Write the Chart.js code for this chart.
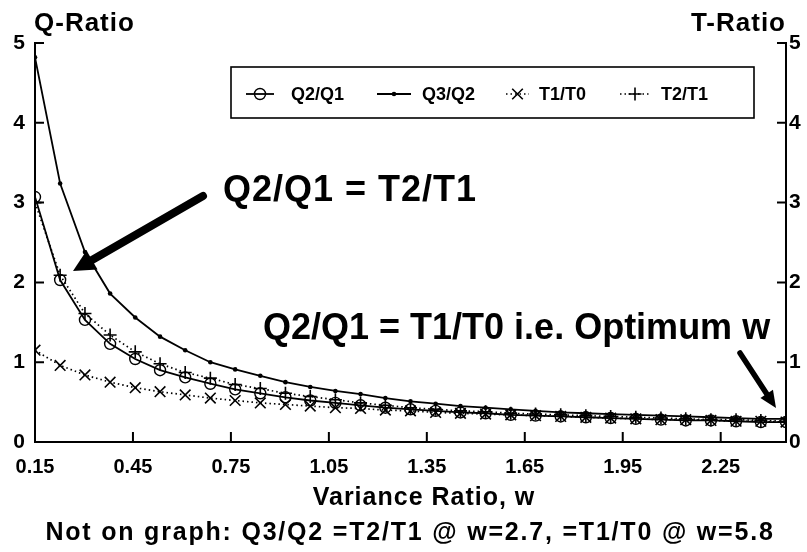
<!DOCTYPE html>
<html>
<head>
<meta charset="utf-8">
<script src="https://cdn.jsdelivr.net/npm/chart.js@4.4.1/dist/chart.umd.min.js"></script>
<style>
  html, body { margin: 0; padding: 0; background: #fff; }
</style>
</head>
<body>
<canvas id="myChart" width="807" height="552"></canvas>
<script>
// variance ratio w at each plotted point
const wValues = [0.15, 0.227, 0.303, 0.38, 0.457, 0.533, 0.61, 0.687, 0.763, 0.84,
    0.917, 0.993, 1.07, 1.147, 1.223, 1.3, 1.377, 1.453, 1.53, 1.607,
    1.683, 1.76, 1.837, 1.913, 1.99, 2.067, 2.143, 2.22, 2.297, 2.373, 2.45];

const q2q1 = [3.07, 2.03, 1.53, 1.23, 1.04, 0.90, 0.81, 0.73, 0.66, 0.61,
    0.56, 0.52, 0.49, 0.46, 0.43, 0.41, 0.39, 0.37, 0.36, 0.34,
    0.33, 0.32, 0.31, 0.30, 0.29, 0.28, 0.27, 0.27, 0.26, 0.25, 0.25];
const q3q2 = [4.82, 3.24, 2.38, 1.86, 1.56, 1.32, 1.15, 1.00, 0.91, 0.83,
    0.75, 0.69, 0.64, 0.60, 0.55, 0.51, 0.48, 0.45, 0.43, 0.41,
    0.39, 0.37, 0.36, 0.35, 0.34, 0.33, 0.32, 0.31, 0.30, 0.29, 0.29];
const t1t0 = [1.15, 0.96, 0.84, 0.75, 0.68, 0.63, 0.59, 0.55, 0.52, 0.49,
    0.47, 0.45, 0.43, 0.42, 0.40, 0.39, 0.37, 0.36, 0.35, 0.34,
    0.33, 0.32, 0.31, 0.30, 0.29, 0.28, 0.28, 0.27, 0.26, 0.26, 0.25];
const t2t1 = [3.00, 2.09, 1.61, 1.34, 1.13, 0.98, 0.87, 0.80, 0.72, 0.67,
    0.61, 0.57, 0.53, 0.49, 0.46, 0.43, 0.41, 0.39, 0.38, 0.36,
    0.35, 0.34, 0.33, 0.32, 0.31, 0.30, 0.29, 0.28, 0.28, 0.27, 0.26];

const xTicks = [0.15, 0.45, 0.75, 1.05, 1.35, 1.65, 1.95, 2.25];

const FONT = '"Liberation Sans", Arial, Helvetica, sans-serif';

const toPoints = (arr) => arr.map((v, i) => ({ x: wValues[i], y: v }));

const data = {
    datasets: [{
            label: 'Q2/Q1',
            data: toPoints(q2q1),
            yAxisID: 'y',
            borderColor: '#000',
            borderWidth: 1.8,
            pointStyle: 'circle',
            pointRadius: 5.5,
            pointBorderWidth: 1.4,
            pointBackgroundColor: 'rgba(255,255,255,0)',
            pointBorderColor: '#000',
        },
        {
            label: 'Q3/Q2',
            data: toPoints(q3q2),
            yAxisID: 'y',
            borderColor: '#000',
            borderWidth: 1.8,
            pointStyle: 'circle',
            pointRadius: 2.3,
            pointBorderWidth: 0,
            pointBackgroundColor: '#000',
            pointBorderColor: '#000',
        },
        {
            label: 'T1/T0',
            data: toPoints(t1t0),
            yAxisID: 'y2',
            borderColor: '#000',
            borderWidth: 1.7,
            borderDash: [1.5, 3],
            pointStyle: 'crossRot',
            pointRadius: 7.5,
            pointBorderWidth: 1.6,
            pointBorderColor: '#000',
        },
        {
            label: 'T2/T1',
            data: toPoints(t2t1),
            yAxisID: 'y2',
            borderColor: '#000',
            borderWidth: 1.7,
            borderDash: [1.5, 3],
            pointStyle: 'cross',
            pointRadius: 6.5,
            pointBorderWidth: 1.6,
            pointBorderColor: '#000',
        },
    ]
};

// arrows, legend box, inward ticks and free texts
const decor = {
    id: 'decor',
    afterDraw(chart) {
        const ctx = chart.ctx;
        const area = chart.chartArea;
        ctx.save();
        ctx.strokeStyle = '#000';
        ctx.fillStyle = '#000';
        ctx.lineWidth = 2;

        // inward tick marks
        const sx = chart.scales.x, sy = chart.scales.y, sy2 = chart.scales.y2;
        ctx.beginPath();
        sy.ticks.forEach(t => {
            const p = sy.getPixelForValue(t.value);
            ctx.moveTo(area.left, p); ctx.lineTo(area.left + 9, p);
        });
        sy2.ticks.forEach(t => {
            const p = sy2.getPixelForValue(t.value);
            ctx.moveTo(area.right, p); ctx.lineTo(area.right - 9, p);
        });
        sx.ticks.forEach(t => {
            const p = sx.getPixelForValue(t.value);
            ctx.moveTo(p, area.bottom); ctx.lineTo(p, area.bottom - 10);
        });
        ctx.stroke();

        // legend
        const box = { l: 231, t: 67, r: 754, b: 118 };
        ctx.lineWidth = 1.6;
        ctx.strokeRect(box.l, box.t, box.r - box.l, box.b - box.t);
        const legY = 94;
        const items = [
            { ds: 0, x1: 246, x2: 274, tx: 291 },
            { ds: 1, x1: 377, x2: 411, tx: 422 },
            { ds: 2, x1: 506, x2: 529, tx: 539 },
            { ds: 3, x1: 620, x2: 650, tx: 661 },
        ];
        ctx.font = 'bold 18px ' + FONT;
        ctx.textBaseline = 'middle';
        ctx.textAlign = 'left';
        items.forEach(it => {
            const ds = chart.data.datasets[it.ds];
            ctx.save();
            ctx.lineWidth = ds.borderWidth;
            ctx.setLineDash(ds.borderDash || []);
            ctx.beginPath();
            ctx.moveTo(it.x1, legY); ctx.lineTo(it.x2, legY);
            ctx.stroke();
            ctx.restore();
            ctx.save();
            ctx.fillStyle = ds.pointBackgroundColor || 'rgba(0,0,0,0)';
            ctx.strokeStyle = '#000';
            ctx.lineWidth = ds.pointBorderWidth;
            Chart.helpers.drawPoint(ctx, {
                pointStyle: ds.pointStyle,
                radius: ds.pointRadius,
                rotation: 0,
                borderWidth: ds.pointBorderWidth
            }, (it.x1 + it.x2) / 2, legY);
            ctx.restore();
            ctx.fillText(ds.label, it.tx, legY + 1);
        });

        // axis titles
        ctx.textBaseline = 'alphabetic';
        ctx.font = 'bold 26px ' + FONT;
        ctx.letterSpacing = '1px';
        ctx.textAlign = 'left';
        ctx.fillText('Q-Ratio', 34, 31);
        ctx.textAlign = 'right';
        ctx.fillText('T-Ratio', 786, 31);

        ctx.textAlign = 'center';
        ctx.font = 'bold 25px ' + FONT;
        ctx.fillText('Variance Ratio, w', 424, 505);
        ctx.letterSpacing = '1.8px';
        ctx.fillText('Not on graph: Q3/Q2 =T2/T1 @ w=2.7, =T1/T0 @ w=5.8', 410, 540);

        // annotations
        ctx.textAlign = 'left';
        ctx.font = 'bold 36px ' + FONT;
        ctx.letterSpacing = '1px';
        ctx.fillText('Q2/Q1 = T2/T1', 223, 201);
        ctx.letterSpacing = '0px';
        ctx.fillText('Q2/Q1 = T1/T0 i.e. Optimum w', 263, 339);

        drawArrow(ctx, 203, 196, 73, 271, 8, 22, 22);
        drawArrow(ctx, 740, 353, 776, 408, 5.5, 17, 15);
        ctx.restore();
    }
};

function drawArrow(ctx, x1, y1, x2, y2, width, headLen, headWidth) {
    const ang = Math.atan2(y2 - y1, x2 - x1);
    const cos = Math.cos(ang), sin = Math.sin(ang);
    const bx = x2 - headLen * cos, by = y2 - headLen * sin;
    ctx.save();
    ctx.lineWidth = width;
    ctx.lineCap = 'round';
    ctx.beginPath();
    ctx.moveTo(x1, y1);
    ctx.lineTo(bx + 2 * cos, by + 2 * sin);
    ctx.stroke();
    ctx.beginPath();
    ctx.moveTo(x2, y2);
    ctx.lineTo(bx - sin * headWidth / 2, by + cos * headWidth / 2);
    ctx.lineTo(bx + sin * headWidth / 2, by - cos * headWidth / 2);
    ctx.closePath();
    ctx.fill();
    ctx.restore();
}

const tickFont = { family: FONT, size: 21, weight: 'bold' };

const config = {
    type: 'line',
    data: data,
    options: {
        responsive: false,
        animation: false,
        layout: { padding: { top: 43, left: 0, right: 0, bottom: 0 } },
        elements: { line: { tension: 0 } },
        scales: {
            x: {
                type: 'linear',
                min: 0.15,
                max: 2.45,
                afterBuildTicks: (scale) => { scale.ticks = xTicks.map(v => ({ value: v })); },
                afterFit: (scale) => { scale.height = 110; },
                grid: { display: false, drawTicks: false },
                border: { display: true, color: '#000', width: 2 },
                ticks: {
                    color: '#000',
                    font: { family: FONT, size: 20, weight: 'bold' },
                    padding: 13,
                    maxRotation: 0,
                    autoSkip: false,
                    callback: (v) => Number(v).toFixed(2)
                }
            },
            y: {
                position: 'left',
                min: 0,
                max: 5,
                afterFit: (scale) => { scale.width = 35; },
                grid: { display: false, drawTicks: false },
                border: { display: true, color: '#000', width: 2 },
                ticks: { color: '#000', font: tickFont, stepSize: 1, padding: 10 }
            },
            y2: {
                position: 'right',
                min: 0,
                max: 5,
                afterFit: (scale) => { scale.width = 21; },
                grid: { display: false, drawTicks: false },
                border: { display: true, color: '#000', width: 2 },
                ticks: { color: '#000', font: tickFont, stepSize: 1, padding: 3 }
            }
        },
        plugins: {
            legend: { display: false },
            tooltip: { enabled: false }
        }
    },
    plugins: [decor]
};

let myChart = new Chart(document.getElementById('myChart'), config);
</script>
</body>
</html>
